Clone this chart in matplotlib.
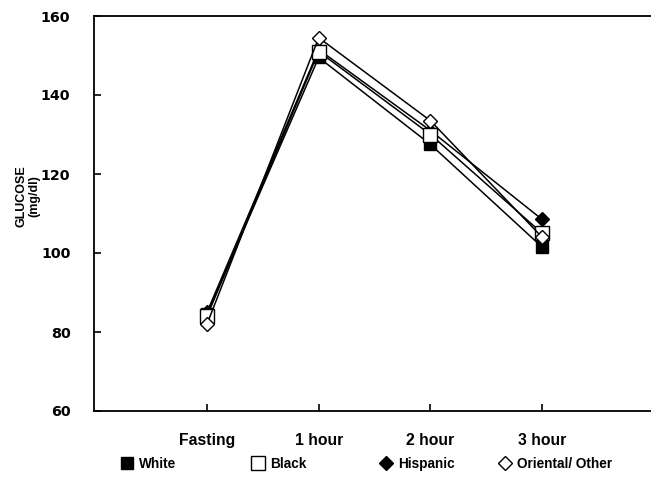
import matplotlib
matplotlib.use("Agg")
import matplotlib.pyplot as plt
from matplotlib.lines import Line2D

categories = ["Fasting", "1 hour", "2 hour", "3 hour"]
series_names = ["White", "Black", "Hispanic", "Oriental/ Other"]
white = [84.5, 149.5, 127.5, 101.5]
black = [84.0, 151.0, 130.0, 105.0]
hispanic = [85.0, 151.5, 131.0, 108.5]
oriental = [82.0, 154.5, 133.5, 104.0]
yticks = [60, 80, 100, 120, 140, 160]

plt.rcParams['font.family'] = ['Liberation Sans', 'DejaVu Sans']
plt.rcParams['font.weight'] = 'bold'

fig = plt.figure(figsize=(6.51, 4.87), dpi=100)
W, H = 651, 487
ax = fig.add_axes([94 / W, (H - 411) / H, (W - 94) / W, (411 - 16) / H])

styles = [
    dict(marker='s', mfc='black', mec='black', ms=9),
    dict(marker='s', mfc='white', mec='black', ms=9.5),
    dict(marker='D', mfc='black', mec='black', ms=7),
    dict(marker='D', mfc='white', mec='black', ms=7.5),
]
zorders = [3, 5, 4, 6]
xs = [1, 2, 3, 4]
for vals, st, z in zip([white, black, hispanic, oriental], styles, zorders):
    ax.plot(xs, vals, color='black', lw=1.1, mew=1.0, zorder=z, **st)

unit = 111.7
x0 = 1 - (207 - 94) / unit
x1 = x0 + (W - 94) / unit
ax.set_xlim(x0, x1)
ax.set_ylim(60, 160)

ax.set_xticks(xs)
ax.set_xticklabels(categories, fontsize=11.3, fontweight='bold')
ax.tick_params(axis='x', direction='in', length=5, width=1.2, pad=16)

ax.set_yticks(yticks)
ax.set_yticklabels([str(v) for v in yticks], fontsize=10.3, fontweight='bold',
                   family='DejaVu Sans')
ax.tick_params(axis='y', direction='in', length=5, width=1.2, pad=17)

for s in ['left', 'bottom', 'top']:
    ax.spines[s].set_linewidth(1.3)
ax.spines['right'].set_visible(False)

fig.text(28 / W, 1 - 196 / H, "GLUCOSE\n(mg/dl)", rotation=90, ha='center', va='center',
         fontsize=9, fontweight='bold', linespacing=1.05)

marker_px = [122, 253, 381, 500]
for st, name, mx in zip(styles, series_names, marker_px):
    h = Line2D([], [], color='none', mew=1.0, **st)
    fig.legend([h], [name], loc='center left', bbox_to_anchor=(mx / W, 1 - 464 / H),
               frameon=False, handlelength=0.8, handletextpad=0.45,
               borderpad=0, borderaxespad=0, prop={'weight': 'bold', 'size': 9.8})

fig.savefig("out.png", dpi=100)
